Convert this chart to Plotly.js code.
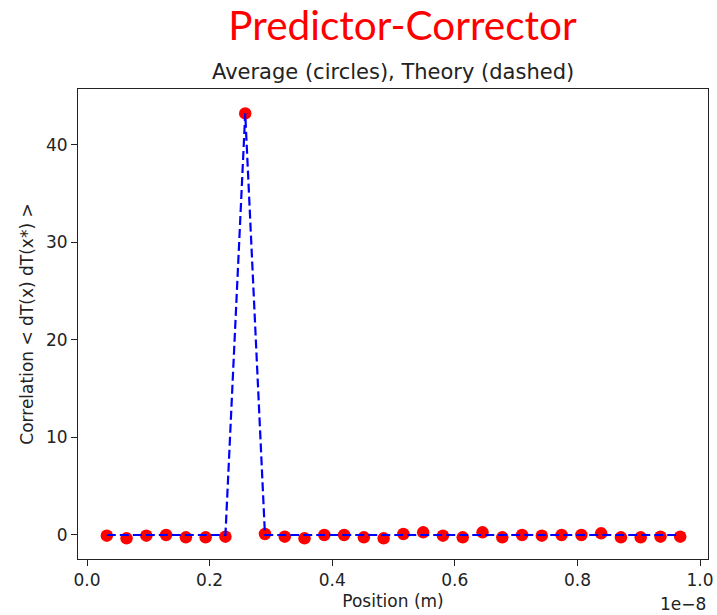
<!DOCTYPE html>
<html>
<head>
<meta charset="utf-8">
<script src="https://cdn.plot.ly/plotly-3.0.1.min.js"></script>
<style>
  html, body { margin: 0; padding: 0; background: #ffffff; }
  #chart { width: 717px; height: 615px; }
</style>
</head>
<body>
<div id="chart"></div>
<script>
// Grid positions (units of 1e-8 m)
const positions = [
  0.0323, 0.0645, 0.0968, 0.1290, 0.1613, 0.1935, 0.2258, 0.2581, 0.2903, 0.3226,
  0.3548, 0.3871, 0.4194, 0.4516, 0.4839, 0.5161, 0.5484, 0.5806, 0.6129, 0.6452,
  0.6774, 0.7097, 0.7419, 0.7742, 0.8065, 0.8387, 0.8710, 0.9032, 0.9355, 0.9677
];

// Sampled average correlation < dT(x) dT(x*) >
const averageCorr = [
  -0.07, -0.34, -0.07, 0.00, -0.24, -0.24, -0.17, 43.2, 0.10, -0.17,
  -0.34, 0.00, 0.00, -0.24, -0.34, 0.10, 0.27, -0.07, -0.24, 0.27,
  -0.24, 0.00, -0.07, 0.00, 0.00, 0.17, -0.24, -0.24, -0.17, -0.17
];

// Theoretical correlation: spike at x* only
const theoryCorr = [
  0, 0, 0, 0, 0, 0, 0, 43.2, 0, 0,
  0, 0, 0, 0, 0, 0, 0, 0, 0, 0,
  0, 0, 0, 0, 0, 0, 0, 0, 0, 0
];

const xTicks = [0.0, 0.2, 0.4, 0.6, 0.8, 1.0];
const yTicks = [0, 10, 20, 30, 40];

const tickFont = { family: 'DejaVu Sans, sans-serif', size: 17, color: '#222222' };

const traces = [
  {
    x: positions, y: averageCorr,
    type: 'scatter', mode: 'markers',
    marker: { color: '#ff0000', size: 12.5 },
    hoverinfo: 'skip'
  },
  {
    x: positions, y: theoryCorr,
    type: 'scatter', mode: 'lines',
    line: { color: '#0000ff', width: 2.2, dash: '9px,4px' },
    hoverinfo: 'skip'
  }
];

const layout = {
  width: 717, height: 615,
  margin: { l: 78, r: 9, t: 89, b: 56 },
  paper_bgcolor: '#ffffff', plot_bgcolor: '#ffffff',
  showlegend: false,
  title: {
    text: 'Predictor-Corrector',
    font: { family: 'Lato, Open Sans, sans-serif', size: 40.5, color: '#ff0000' },
    xref: 'container', yref: 'container',
    x: 402.5 / 717, y: 1 - 26 / 615, xanchor: 'center', yanchor: 'middle'
  },
  xaxis: {
    range: [-0.0147, 1.013],
    tickvals: xTicks, tickformat: '.1f',
    ticks: 'outside', ticklen: 6, tickcolor: '#222222',
    showline: true, linecolor: '#222222', linewidth: 1, mirror: true,
    showgrid: false, zeroline: false,
    tickfont: tickFont,
    title: { text: 'Position (m)', font: tickFont, standoff: 5 }
  },
  yaxis: {
    range: [-2.46, 45.7],
    tickvals: yTicks,
    ticks: 'outside', ticklen: 6, tickcolor: '#222222',
    showline: true, linecolor: '#222222', linewidth: 1, mirror: true,
    showgrid: false, zeroline: false,
    tickfont: tickFont,
    title: { text: 'Correlation < dT(x) dT(x*) >', font: tickFont, standoff: 8 }
  },
  annotations: [
    {
      text: 'Average (circles), Theory (dashed)',
      xref: 'paper', yref: 'paper', x: 0.5, y: (559 - 72) / 470,
      xanchor: 'center', yanchor: 'middle', showarrow: false,
      font: { family: 'DejaVu Sans, sans-serif', size: 21, color: '#222222' }
    },
    {
      text: '1e\u22128',
      xref: 'paper', yref: 'paper', x: 1.0, y: (559 - 604) / 470,
      xanchor: 'right', yanchor: 'middle', showarrow: false,
      font: tickFont
    }
  ]
};

Plotly.newPlot('chart', traces, layout, { staticPlot: true, displayModeBar: false });
</script>
</body>
</html>
